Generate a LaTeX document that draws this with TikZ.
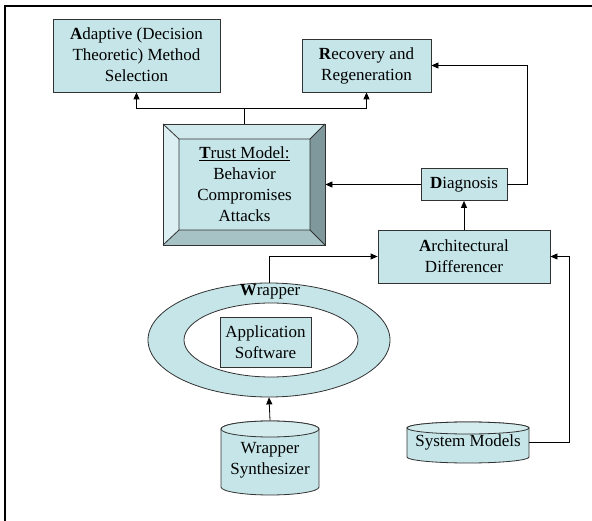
\documentclass[tikz,border=0pt]{standalone}
\usepackage{fontspec}
\setmainfont{Liberation Serif}
\usetikzlibrary{arrows.meta,shapes.geometric}
\definecolor{boxfill}{RGB}{198,229,232}
\definecolor{capfill}{RGB}{212,236,238}
\definecolor{boxline}{RGB}{50,50,50}
\definecolor{bevlight}{RGB}{220,239,242}
\definecolor{bevtop}{RGB}{208,233,236}
\definecolor{bevdark}{RGB}{126,152,155}
\definecolor{bevbot}{RGB}{166,194,197}
\begin{document}
\begin{tikzpicture}[x=1pt,y=1pt,
  font=\fontsize{17}{21}\selectfont,
  box/.style={draw=boxline, fill=boxfill, line width=0.8pt, align=center, inner sep=0pt},
  txt/.style={align=center, inner sep=0pt},
  link/.style={draw=black, line width=0.8pt},
  arr/.style={link, -{Triangle[length=7pt,width=6pt]}}]
\useasboundingbox (0,0) rectangle (592,-521);

% page frame (top and left edges)
\draw[line width=1.6pt] (592,-6) -- (5,-6) -- (5,-521);

% upper boxes
\node[box, minimum width=167pt, minimum height=73pt, text depth=2pt] (adapt) at (136.5,-55.5)
  {\textbf{A}daptive (Decision\\Theoretic) Method\\Selection};
\node[box, minimum width=129pt, minimum height=53pt, text depth=3pt] (recov) at (366.5,-65.5)
  {\textbf{R}ecovery and\\Regeneration};
\node[box, minimum width=86pt, minimum height=32pt] (diag) at (464,-184.5)
  {\textbf{D}iagnosis};
\node[box, minimum width=172pt, minimum height=53pt] (arch) at (464,-256.5)
  {\textbf{A}rchitectural\\Differencer};

% bevelled trust model block
\fill[bevlight] (163,-124) -- (179,-139) -- (179,-230) -- (163,-245) -- cycle;
\fill[bevtop] (163,-124) -- (325,-124) -- (310,-139) -- (179,-139) -- cycle;
\fill[bevdark] (325,-124) -- (325,-245) -- (310,-230) -- (310,-139) -- cycle;
\fill[bevbot] (163,-245) -- (325,-245) -- (310,-230) -- (179,-230) -- cycle;
\fill[boxfill] (179,-139) rectangle (310,-230);
\draw[boxline, line width=0.8pt] (179,-139) rectangle (310,-230)
  (163,-124) -- (179,-139) (325,-124) -- (310,-139)
  (163,-245) -- (179,-230) (325,-245) -- (310,-230);
\node[draw=boxline, line width=0.8pt, minimum width=162pt, minimum height=121pt, inner sep=0pt]
  (trust) at (244,-184.5) {};
\node[txt] (trusttext) at (244.5,-184.5)
  {\underline{\textbf{T}rust Model:}\\Behavior\\Compromises\\Attacks};

% wrapper ring around the application
\node[ellipse, draw=boxline, fill=boxfill, line width=0.8pt, inner sep=0pt,
  minimum width=242pt, minimum height=114pt] (wrap) at (269,-340) {};
\node[ellipse, draw=boxline, fill=white, line width=0.8pt, inner sep=0pt,
  minimum width=174pt, minimum height=74pt] (wrapin) at (271,-340) {};
\node[txt] (wraplbl) at (270,-292) {\textbf{W}rapper};
\node[box, minimum width=91pt, minimum height=50pt] (app) at (265.5,-342)
  {Application\\Software};

% wrapper synthesizer store
\filldraw[fill=boxfill, draw=boxline, line width=0.8pt]
  (221,-429) -- (221,-487) arc[start angle=180, end angle=360, x radius=49pt, y radius=8pt]
  -- (319,-429) arc[start angle=0, end angle=180, x radius=49pt, y radius=8pt] -- cycle;
\filldraw[fill=capfill, draw=boxline, line width=0.8pt] (270,-429) ellipse (49pt and 8pt);
\node[txt, minimum width=98pt, minimum height=79pt] (synth) at (270,-460)
  {Wrapper\\Synthesizer};

% system models store
\filldraw[fill=boxfill, draw=boxline, line width=0.8pt]
  (407,-428) -- (407,-457) arc[start angle=180, end angle=360, x radius=61pt, y radius=6pt]
  -- (529,-428) arc[start angle=0, end angle=180, x radius=61pt, y radius=6pt] -- cycle;
\filldraw[fill=capfill, draw=boxline, line width=0.8pt] (468,-428) ellipse (61pt and 6pt);
\node[txt, minimum width=122pt] (sys) at (468,-442.5) {System Models};

% connectors
\coordinate (split) at (trust.north |- 0,-108);
\draw[link] (trust.north) -- (split);
\draw[arr] (split) -| (adapt.south);
\draw[arr] (split) -| (recov.south);
\draw[arr] (diag.west) -- (trust.east);
\draw[arr] (diag.east) -- ++(20,0) |- (recov.east);
\draw[arr] (arch.north) -- (diag.south);
\draw[arr] (wrap.north) |- (arch.west);
\draw[arr] (sys.east) -- ++(40,0) |- (arch.east);
\draw[arr] (synth.north) -- (wrap.south);
\end{tikzpicture}
\end{document}
